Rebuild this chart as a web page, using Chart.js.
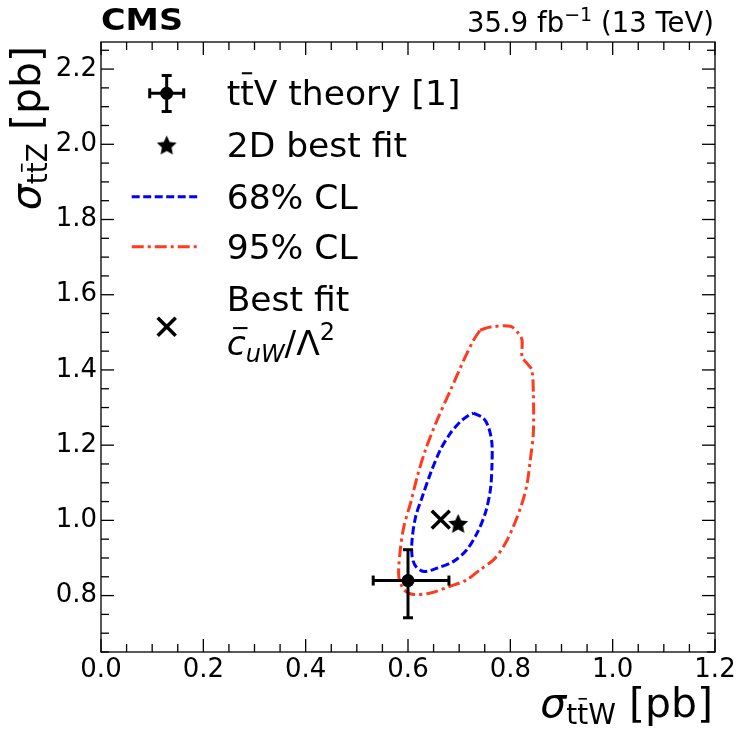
<!DOCTYPE html>
<html lang="en">
<head>
<meta charset="UTF-8">
<title>ttW / ttZ cross sections</title>
<script src="https://cdn.jsdelivr.net/npm/chart.js"></script>
<style>
  html, body { margin: 0; padding: 0; background: #fff; }
  canvas { display: block; }
</style>
</head>
<body>
<canvas id="fit" width="745" height="736"></canvas>
<script>
// 95% CL contour (closed loop)
var cl95X = [0.741, 0.761, 0.800, 0.816, 0.823, 0.823, 0.833, 0.842, 0.845, 0.845, 0.839, 0.833, 0.823, 0.806, 0.787, 0.767, 0.741, 0.715, 0.683, 0.644, 0.611, 0.592, 0.582, 0.585, 0.592, 0.605, 0.618, 0.634, 0.657, 0.683, 0.709, 0.728, 0.741];
var cl95Y = [1.506, 1.514, 1.516, 1.497, 1.479, 1.435, 1.417, 1.400, 1.338, 1.232, 1.161, 1.099, 1.046, 0.984, 0.931, 0.895, 0.869, 0.842, 0.825, 0.807, 0.803, 0.816, 0.851, 0.922, 0.984, 1.046, 1.116, 1.187, 1.267, 1.346, 1.426, 1.479, 1.506];
// 68% CL contour
var cl68X = [0.728, 0.748, 0.758, 0.764, 0.764, 0.761, 0.751, 0.735, 0.715, 0.689, 0.657, 0.631, 0.615, 0.608, 0.608, 0.615, 0.628, 0.644, 0.663, 0.683, 0.702, 0.719, 0.728];
var cl68Y = [1.285, 1.271, 1.245, 1.205, 1.143, 1.081, 1.019, 0.966, 0.922, 0.891, 0.873, 0.864, 0.878, 0.904, 0.949, 1.010, 1.063, 1.125, 1.187, 1.232, 1.262, 1.280, 1.285];
// best fit points
var bestFit2D = [0.698, 0.992];
var bestFitCuW = [0.664, 1.002];
// ttV theory prediction with its uncertainties
var theoryX = [0.600];
var theoryY = [0.840];
var theoryXRange = [0.532, 0.680];
var theoryYRange = [0.741, 0.922];
// axis tick labels
var xTicks = [0.0, 0.2, 0.4, 0.6, 0.8, 1.0, 1.2];
var yTicks = [0.8, 1.0, 1.2, 1.4, 1.6, 1.8, 2.0, 2.2];

var FONT = 'DejaVu Sans';
var RED = '#ff3a1e';
var BLUE = '#0000ff';
var DASH68 = [8, 3.5];
var DASH95 = [12, 4, 3, 4];

function pts(xs, ys) {
  return xs.map(function (v, i) { return { x: v, y: ys[i] }; });
}

function makeStar(r) {
  var s = Math.ceil(r * 2 + 2);
  var c = document.createElement('canvas');
  c.width = s; c.height = s;
  var g = c.getContext('2d');
  g.beginPath();
  for (var i = 0; i < 10; i++) {
    var rr = i % 2 === 0 ? r : r * 0.48;
    var a = -Math.PI / 2 + i * Math.PI / 5;
    g.lineTo(s / 2 + rr * Math.cos(a), s / 2 + 1 + rr * Math.sin(a));
  }
  g.closePath();
  g.fillStyle = '#000';
  g.fill();
  return c;
}
var starImg = makeStar(10.5);

function line(ctx, x1, y1, x2, y2) {
  ctx.beginPath(); ctx.moveTo(x1, y1); ctx.lineTo(x2, y2); ctx.stroke();
}

// draws a row of text pieces; piece = {t, size, italic, bold, dy, bar}
function drawRuns(ctx, runs, x, y, align) {
  var total = 0;
  runs.forEach(function (r) {
    ctx.font = (r.italic ? 'italic ' : '') + (r.bold ? 'bold ' : '') + r.size + 'px "' + FONT + '"';
    r.w = ctx.measureText(r.t).width;
    total += r.w;
  });
  var cx = align === 'right' ? x - total : x;
  ctx.textAlign = 'left';
  ctx.textBaseline = 'alphabetic';
  runs.forEach(function (r) {
    ctx.font = (r.italic ? 'italic ' : '') + (r.bold ? 'bold ' : '') + r.size + 'px "' + FONT + '"';
    ctx.fillText(r.t, cx, y + (r.dy || 0));
    if (r.bar) {
      var by = y + (r.dy || 0) - r.size * (r.barH || 0.86);
      var sk = r.italic ? r.size * 0.12 : 0;
      ctx.lineWidth = Math.max(1.2, r.size * 0.06);
      line(ctx, cx + r.w * 0.12 + sk, by, cx + r.w * 0.88 + sk, by);
    }
    cx += r.w;
  });
}

var decor = {
  id: 'decor',
  afterDatasetsDraw: function (chart) {
    var ctx = chart.ctx, xs = chart.scales.x, ys = chart.scales.y;
    ctx.save();
    ctx.strokeStyle = '#000';
    ctx.lineWidth = 3;
    var px = xs.getPixelForValue(theoryX[0]), py = ys.getPixelForValue(theoryY[0]);
    var x1 = xs.getPixelForValue(theoryXRange[0]), x2 = xs.getPixelForValue(theoryXRange[1]);
    var y1 = ys.getPixelForValue(theoryYRange[0]), y2 = ys.getPixelForValue(theoryYRange[1]);
    line(ctx, x1, py, x2, py);
    line(ctx, px, y1, px, y2);
    line(ctx, x1, py - 5, x1, py + 5);
    line(ctx, x2, py - 5, x2, py + 5);
    line(ctx, px - 5, y1, px + 5, y1);
    line(ctx, px - 5, y2, px + 5, y2);
    ctx.restore();
  },
  afterDraw: function (chart) {
    var ctx = chart.ctx, xs = chart.scales.x, ys = chart.scales.y, a = chart.chartArea;
    ctx.save();
    ctx.fillStyle = '#000';
    ctx.strokeStyle = '#000';

    // frame
    ctx.lineWidth = 1.3;
    ctx.strokeRect(a.left, a.top, a.right - a.left, a.bottom - a.top);

    // inward ticks on all four sides
    var k, v, p, major;
    for (k = Math.ceil(xs.min / 0.05 - 1e-6); k * 0.05 <= xs.max + 1e-9; k++) {
      v = k * 0.05; major = k % 4 === 0;
      p = xs.getPixelForValue(v);
      var lx = major ? 13 : 8;
      line(ctx, p, a.bottom, p, a.bottom - lx);
      line(ctx, p, a.top, p, a.top + lx);
    }
    for (k = Math.ceil(ys.min / 0.05 - 1e-6); k * 0.05 <= ys.max + 1e-9; k++) {
      v = k * 0.05; major = k % 4 === 0;
      p = ys.getPixelForValue(v);
      var ly = major ? 13 : 8;
      line(ctx, a.left, p, a.left + ly, p);
      line(ctx, a.right, p, a.right - ly, p);
    }

    // CMS label, stretched to the width of the original
    ctx.font = 'bold 31px "' + FONT + '"';
    var cw = ctx.measureText('CMS').width;
    ctx.save();
    ctx.translate(a.left, 30);
    ctx.scale(82 / cw, 1);
    ctx.textAlign = 'left';
    ctx.textBaseline = 'alphabetic';
    ctx.fillText('CMS', 0, 0);
    ctx.restore();

    // luminosity label
    drawRuns(ctx, [
      { t: '35.9 fb', size: 27.5 },
      { t: '\u22121', size: 19, dy: -11 },
      { t: ' (13 TeV)', size: 27.5 }
    ], a.right - 1, 32, 'right');

    // x axis title
    drawRuns(ctx, [
      { t: '\u03c3', size: 41, italic: true },
      { t: 't', size: 28, dy: 7 },
      { t: 't', size: 28, dy: 7, bar: true, barH: 0.9 },
      { t: 'W', size: 28, dy: 7 },
      { t: ' [pb]', size: 41 }
    ], a.right - 2, 717, 'right');

    // y axis title
    ctx.save();
    ctx.translate(40, 46);
    ctx.rotate(-Math.PI / 2);
    drawRuns(ctx, [
      { t: '\u03c3', size: 41, italic: true },
      { t: 't', size: 28, dy: 7 },
      { t: 't', size: 28, dy: 7, bar: true, barH: 0.9 },
      { t: 'Z', size: 28, dy: 7 },
      { t: ' [pb]', size: 41 }
    ], 0, 0, 'right');
    ctx.restore();

    // legend
    var mx = 166.7, tx = 226.7, LS = 34.5;
    // theory marker
    ctx.lineWidth = 3;
    line(ctx, mx - 17, 93.3, mx + 17, 93.3);
    line(ctx, mx, 75.5, mx, 111.5);
    line(ctx, mx - 17, 88.3, mx - 17, 98.3);
    line(ctx, mx + 17, 88.3, mx + 17, 98.3);
    line(ctx, mx - 5, 75.5, mx + 5, 75.5);
    line(ctx, mx - 5, 111.5, mx + 5, 111.5);
    ctx.beginPath(); ctx.arc(mx, 93.3, 6.5, 0, Math.PI * 2); ctx.fill();
    drawRuns(ctx, [
      { t: 't', size: LS },
      { t: 't', size: LS, bar: true, barH: 0.92 },
      { t: 'V theory [1]', size: LS }
    ], tx, 105);
    // star
    ctx.drawImage(starImg, mx - starImg.width / 2, 145 - starImg.height / 2);
    drawRuns(ctx, [{ t: '2D best fit', size: LS }], tx, 157);
    // 68% line
    ctx.lineWidth = 3;
    ctx.strokeStyle = BLUE;
    ctx.setLineDash(DASH68);
    line(ctx, 131.7, 196.7, 200, 196.7);
    drawRuns(ctx, [{ t: '68% CL', size: LS }], tx, 209);
    // 95% line
    ctx.strokeStyle = RED;
    ctx.setLineDash(DASH95);
    line(ctx, 131.7, 246.7, 200, 246.7);
    ctx.setLineDash([]);
    drawRuns(ctx, [{ t: '95% CL', size: LS }], tx, 258.5);
    // cuW best fit cross
    ctx.strokeStyle = '#000';
    ctx.lineWidth = 3.5;
    line(ctx, mx - 9, 317.7, mx + 9, 335.7);
    line(ctx, mx - 9, 335.7, mx + 9, 317.7);
    drawRuns(ctx, [{ t: 'Best fit', size: LS }], tx, 311);
    drawRuns(ctx, [
      { t: 'c', size: LS, italic: true, bar: true, barH: 0.78 },
      { t: 'uW', size: 24, italic: true, dy: 7 },
      { t: '/\u039b', size: LS },
      { t: '2', size: 24, dy: -15 }
    ], tx, 355);

    ctx.restore();
  }
};

var tickFont = { family: FONT, size: 26 };

new Chart(document.getElementById('fit').getContext('2d'), {
  type: 'scatter',
  data: {
    datasets: [
      {
        label: 'Best fit cuW',
        data: [{ x: bestFitCuW[0], y: bestFitCuW[1] }],
        pointStyle: 'crossRot', pointRadius: 12.7, borderWidth: 3.5,
        borderColor: '#000', backgroundColor: '#000'
      },
      {
        label: '2D best fit',
        data: [{ x: bestFit2D[0], y: bestFit2D[1] }],
        pointStyle: starImg, pointRadius: 11
      },
      {
        label: 'ttV theory',
        data: pts(theoryX, theoryY),
        pointStyle: 'circle', pointRadius: 6.5, borderWidth: 0,
        backgroundColor: '#000', borderColor: '#000'
      },
      {
        label: '68% CL',
        data: pts(cl68X, cl68Y),
        showLine: true, pointRadius: 0, tension: 0.3,
        borderColor: BLUE, borderWidth: 3, borderDash: DASH68, fill: false
      },
      {
        label: '95% CL',
        data: pts(cl95X, cl95Y),
        showLine: true, pointRadius: 0, tension: 0.3,
        borderColor: RED, borderWidth: 3, borderDash: DASH95, fill: false
      }
    ]
  },
  options: {
    responsive: false,
    animation: false,
    layout: { padding: { top: 42, right: 30, left: 0, bottom: 0 } },
    plugins: { legend: { display: false }, tooltip: { enabled: false } },
    scales: {
      x: {
        type: 'linear', min: 0, max: 1.2,
        grid: { display: false, drawTicks: false },
        border: { display: false },
        ticks: {
          font: tickFont, color: '#000', padding: 3, maxRotation: 0, autoSkip: false,
          callback: function (v) { return v.toFixed(1); }
        },
        afterBuildTicks: function (s) { s.ticks = xTicks.map(function (v) { return { value: v }; }); },
        afterFit: function (s) { s.height = 84; }
      },
      y: {
        type: 'linear', min: 0.65, max: 2.272,
        grid: { display: false, drawTicks: false },
        border: { display: false },
        ticks: {
          font: tickFont, color: '#000', padding: 4, autoSkip: false,
          callback: function (v) { return v.toFixed(1); }
        },
        afterBuildTicks: function (s) { s.ticks = yTicks.map(function (v) { return { value: v }; }); },
        afterFit: function (s) { s.width = 101; }
      }
    }
  },
  plugins: [decor]
});
</script>
</body>
</html>
